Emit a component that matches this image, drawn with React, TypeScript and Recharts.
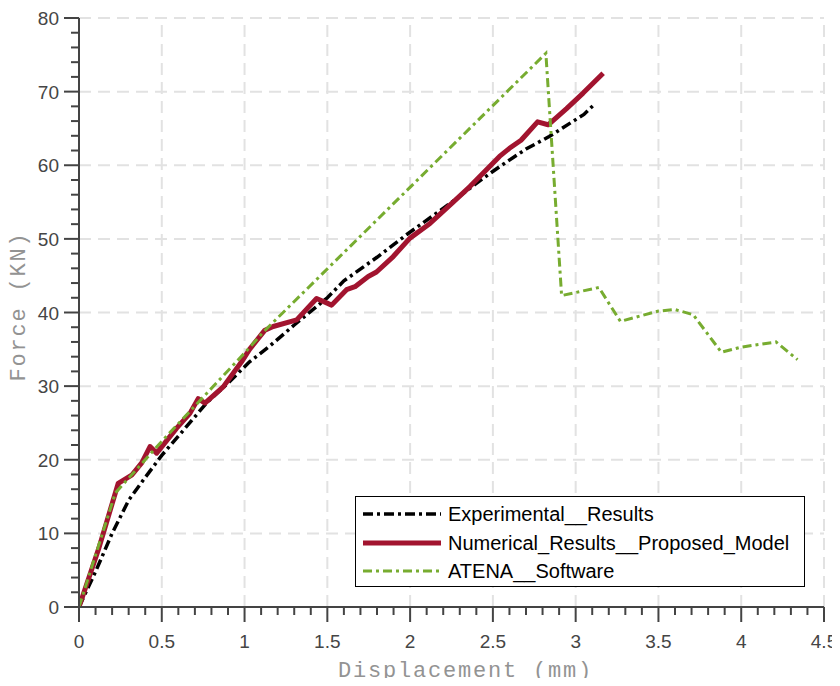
import React from "react";
import { LineChart, Line, XAxis, YAxis, ReferenceLine } from "recharts";

// Experimental results (black dash-dot)
const expDisp = [0, 0.1, 0.2, 0.3, 0.4, 0.5, 0.6, 0.77, 0.9, 1.03, 1.15, 1.3, 1.5, 1.6, 1.8, 1.98, 2.24, 2.44, 2.54, 2.7, 2.84, 3.0, 3.05, 3.11];
const expForce = [0, 4.8, 10, 14.5, 17.6, 20.6, 23.2, 27.7, 30.4, 33.3, 35.4, 38.3, 42, 44.3, 47.5, 50.6, 54.8, 58.2, 59.8, 62.2, 63.9, 66.2, 66.9, 68.2];

// Numerical results, proposed model (red)
const numDisp = [0, 0.12, 0.237, 0.318, 0.38, 0.429, 0.469, 0.59, 0.67, 0.72, 0.761, 0.871, 0.982, 1.03, 1.123, 1.173, 1.315, 1.435, 1.526, 1.616, 1.667, 1.747, 1.797, 1.898, 1.999, 2.12, 2.26, 2.361, 2.4, 2.54, 2.6, 2.67, 2.77, 2.834, 2.945, 3.045, 3.166];
const numForce = [0, 8, 16.8, 17.9, 19.6, 21.8, 20.9, 24.3, 26.3, 28.3, 27.7, 29.9, 33.3, 35.0, 37.6, 38.1, 39.0, 41.9, 41.0, 43.1, 43.5, 44.9, 45.5, 47.6, 50.1, 52.1, 55.0, 57.1, 58.0, 61.2, 62.3, 63.4, 65.9, 65.5, 67.7, 69.8, 72.5];

// ATENA software (green dash-dot)
const atenaDisp = [0, 0.22, 0.5, 0.75, 1.0, 1.12, 2.82, 2.915, 3.14, 3.27, 3.5, 3.6, 3.71, 3.88, 4.0, 4.21, 4.34];
const atenaForce = [0, 15.5, 22.5, 28.5, 34.5, 37.5, 75.2, 42.3, 43.4, 38.8, 40.2, 40.4, 39.7, 34.6, 35.3, 36.0, 33.6];

const xTicks = Array.from({ length: 46 }, (_, i) => i / 10);
const yTicks = Array.from({ length: 41 }, (_, i) => i * 2);
const xGrid = [0.5, 1, 1.5, 2, 2.5, 3, 3.5, 4, 4.5];
const yGrid = [10, 20, 30, 40, 50, 60, 70, 80];

const toPoints = (xs: number[], ys: number[]) => xs.map((x, i) => ({ x, y: ys[i] }));
const expData = toPoints(expDisp, expForce);
const numData = toPoints(numDisp, numForce);
const atenaData = toPoints(atenaDisp, atenaForce);

const AXIS = "#444444";
const FONT = '"Liberation Sans", Arial, sans-serif';
const MONO = '"Liberation Mono", "DejaVu Sans Mono", monospace';
const EXP_DASH = "10 4 3 4";
const ATENA_DASH = "9 4 3 4";

const XTick = ({ x, y, payload }: any) => {
  const major = Math.round(payload.value * 10) % 5 === 0;
  return (
    <g>
      <line x1={x} x2={x} y1={y} y2={y + (major ? 15 : 8)} stroke={AXIS} strokeWidth={2} />
      {major && (
        <text x={x} y={y + 41} textAnchor="middle" fontSize={19} fill="#454545" fontFamily={FONT}>
          {payload.value}
        </text>
      )}
    </g>
  );
};

const YTick = ({ x, y, payload }: any) => {
  const major = payload.value % 10 === 0;
  return (
    <g>
      <line x1={x - (major ? 15 : 8)} x2={x} y1={y} y2={y} stroke={AXIS} strokeWidth={2} />
      {major && (
        <text x={x - 20} y={y + 7} textAnchor="end" fontSize={19} fill="#454545" fontFamily={FONT}>
          {payload.value}
        </text>
      )}
    </g>
  );
};

const XTitle = ({ viewBox }: any) => (
  <text
    x={viewBox.x + viewBox.width / 2 + 14}
    y={viewBox.y + 70}
    textAnchor="middle"
    fontSize={22}
    letterSpacing={1.8}
    fill="#939393"
    fontFamily={MONO}
  >
    Displacement (mm)
  </text>
);

const YTitle = ({ viewBox }: any) => {
  const cx = viewBox.x + 17;
  const cy = viewBox.y + viewBox.height / 2 - 6;
  return (
    <text
      x={cx}
      y={cy}
      transform={`rotate(-90 ${cx} ${cy})`}
      textAnchor="middle"
      fontSize={22}
      letterSpacing={1.8}
      fill="#939393"
      fontFamily={MONO}
    >
      Force (KN)
    </text>
  );
};

const legendItems = [
  { name: "Experimental__Results", color: "#000000", width: 3.5, dash: EXP_DASH },
  { name: "Numerical_Results__Proposed_Model", color: "#A2142F", width: 5, dash: undefined },
  { name: "ATENA__Software", color: "#77AC30", width: 3, dash: ATENA_DASH },
];
const legendRowCenters = [17, 46, 74];

export default function App() {
  // negative top margin cancels the body margin so the chart can use the full page height
  return (
    <div style={{ position: "relative", width: 832, height: 678, marginTop: -8 }}>
      <LineChart width={832} height={686} margin={{ top: 18, right: 16, left: 0, bottom: 0 }}>
        <XAxis
          type="number"
          dataKey="x"
          domain={[0, 4.5]}
          ticks={xTicks}
          interval={0}
          tickSize={0}
          tickMargin={0}
          height={79}
          tick={<XTick />}
          axisLine={{ stroke: AXIS, strokeWidth: 2 }}
          tickLine={false}
          allowDataOverflow
          label={<XTitle />}
        />
        <YAxis
          type="number"
          dataKey="y"
          domain={[0, 80]}
          ticks={yTicks}
          interval={0}
          tickSize={0}
          tickMargin={0}
          width={71}
          tick={<YTick />}
          axisLine={{ stroke: AXIS, strokeWidth: 2 }}
          tickLine={false}
          allowDataOverflow
          label={<YTitle />}
        />
        {xGrid.map((v) => (
          <ReferenceLine key={`gx${v}`} x={v} stroke="#e2e2e2" strokeWidth={2} strokeDasharray="12 7" />
        ))}
        {yGrid.map((v) => (
          <ReferenceLine key={`gy${v}`} y={v} stroke="#e2e2e2" strokeWidth={2} strokeDasharray="12 7" />
        ))}
        <Line
          data={expData}
          dataKey="y"
          type="linear"
          stroke="#000000"
          strokeWidth={3.5}
          strokeDasharray={EXP_DASH}
          dot={false}
          isAnimationActive={false}
        />
        <Line
          data={numData}
          dataKey="y"
          type="linear"
          stroke="#A2142F"
          strokeWidth={5}
          strokeLinejoin="round"
          dot={false}
          isAnimationActive={false}
        />
        <Line
          data={atenaData}
          dataKey="y"
          type="linear"
          stroke="#77AC30"
          strokeWidth={3}
          strokeDasharray={ATENA_DASH}
          dot={false}
          isAnimationActive={false}
        />
      </LineChart>
      <div
        style={{
          position: "absolute",
          left: 347,
          top: 496,
          width: 450,
          height: 91,
          border: "1.5px solid #000",
          boxSizing: "border-box",
          background: "#fff",
          fontFamily: FONT,
          fontSize: 20,
          color: "#000",
        }}
      >
        {legendItems.map((item, i) => (
          <div
            key={item.name}
            style={{
              position: "absolute",
              left: 7,
              top: legendRowCenters[i] - 13,
              height: 26,
              display: "flex",
              alignItems: "center",
              whiteSpace: "nowrap",
            }}
          >
            <svg width={78} height={10} style={{ marginRight: 7 }}>
              <line
                x1={0}
                x2={78}
                y1={5}
                y2={5}
                stroke={item.color}
                strokeWidth={item.width}
                strokeDasharray={item.dash}
              />
            </svg>
            <span>{item.name}</span>
          </div>
        ))}
      </div>
    </div>
  );
}
